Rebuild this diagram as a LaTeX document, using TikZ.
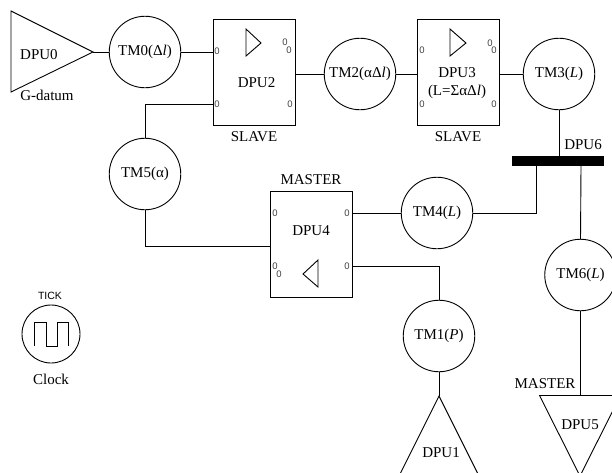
\documentclass[tikz,border=0pt]{standalone}
\usepackage{fontspec}
\setmainfont{Liberation Serif}
\setsansfont{Liberation Sans}
\begin{document}
\begin{tikzpicture}[x=1pt,y=-1pt,line width=0.9pt,
  tm/.style={draw,circle,minimum size=71.5pt,inner sep=0pt,outer sep=0pt,font=\fontsize{15}{17}\selectfont},
  dpubox/.style={draw,rectangle,minimum width=82pt,minimum height=106pt,inner sep=0pt,outer sep=0pt,align=center,font=\fontsize{15}{19}\selectfont},
  lbl/.style={inner sep=0pt,outer sep=0pt,font=\fontsize{15}{17}\selectfont},
  port/.style={inner sep=0pt,outer sep=0pt,text=black!75,font=\sffamily\fontsize{9.5}{11}\selectfont},
  wire/.style={draw,line width=0.9pt}]
\useasboundingbox (0,0) rectangle (612,472);
\clip (0,0) rectangle (612,472);

% tokens
\node[tm] (TM0) at (145,52) {TM0(Δ\textit{l})};
\node[tm] (TM2) at (360,74) {TM2(αΔ\textit{l})};
\node[tm] (TM3) at (559,74) {TM3(\textit{L})};
\node[tm] (TM5) at (145,174) {TM5(α)};
\node[tm] (TM4) at (437,213) {TM4(\textit{L})};
\node[tm] (TM6) at (580.5,275) {TM6(\textit{L})};
\node[tm] (TM1) at (439,336) {TM1(\textit{P})};

% DPU boxes
\node[dpubox] (DPU2) at (254,72) {};
\node[lbl] at (256.5,83) {DPU2};
\node[dpubox] (DPU3) at (458,72) {};
\node[lbl,align=center] at (457,73) {DPU3};
\node[lbl] at (457,92) {(L=ΣαΔ\textit{l})};
\node[dpubox] (DPU4) at (311,244) {};
\node[lbl] at (311,231) {DPU4};

% box labels
\node[lbl] at (254,137) {SLAVE};
\node[lbl] at (458,137) {SLAVE};
\node[lbl] at (311,180) {MASTER};
\node[lbl] at (583,145) {DPU6};
\node[lbl] at (545,384) {MASTER};

% small triangles in boxes
\draw (246,29) -- (261,43) -- (246,56) -- cycle;
\draw (450,29) -- (466,43) -- (450,56) -- cycle;
\draw (318,260) -- (303,274) -- (318,287) -- cycle;

% port marks
\foreach \x/\y in {217/51,217/104,285/42,289/50,290/104,
                   422/50,422/104,490/43,494/50,494/104,
                   275/213,347/213,275/266,279/274,347/266}
  \node[port] at (\x,\y) {0};

% DPU0
\coordinate (D0a) at (11,11);
\coordinate (D0tip) at (93,52);
\coordinate (D0b) at (11,92);
\draw[line join=miter] (D0a) -- (D0tip) -- (D0b) -- cycle;
\node[lbl] (DPU0) at (39,55) {DPU0};
\node[lbl] (Gd) at (47,95) {G-datum};

% DPU1
\coordinate (D1tip) at (439,396);
\draw (399,476) -- (D1tip) -- (479,476);
\node[lbl] (DPU1) at (441,453) {DPU1};

% DPU5
\coordinate (D5top) at (580.5,395.5);
\draw (539.5,395.5) -- (620.5,395.5) -- (580,476) -- cycle;
\node[lbl] (DPU5) at (580,425) {DPU5};

% DPU6 bar
\node[fill=black,draw=none,minimum width=92pt,minimum height=10pt,inner sep=0pt,outer sep=0pt] (DPU6) at (558,161) {};

% connectors
\draw[wire] (D0tip) -- (TM0.west);
\draw[wire] (TM0.east) -- (213,52);
\draw[wire] (TM5.north) |- (213,104);
\draw[wire] (TM5.south) |- (270,246);
\draw[wire] (DPU2.east |- TM2.west) -- (TM2.west);
\draw[wire] (TM2.east) -- (TM2.east -| DPU3.west);
\draw[wire] (DPU3.east |- TM3.west) -- (TM3.west);
\draw[wire] (TM3.south) -- (TM3.south |- DPU6.north);
\draw[wire] (TM4.west) -- (352,213);
\draw[wire] (TM4.east) -| (536,166);
\draw[wire] (581,166) -- (TM6.north);
\draw[wire] (TM6.south) -- (D5top);
\draw[wire] (352,266) -| (TM1.north);
\draw[wire] (TM1.south) -- (D1tip);

% Clock
\node[draw,circle,minimum size=58pt,inner sep=0pt,outer sep=0pt] (CLK) at (51,334) {};
\draw (34,346) -- (34,322) -- (46,322) -- (46,346) -- (57,346) -- (57,322) -- (68,322) -- (68,346);
\node[inner sep=0pt,font=\sffamily\fontsize{10.5}{12}\selectfont] (TICK) at (50,296) {TICK};
\node[lbl] (Clock) at (51,379) {Clock};
\end{tikzpicture}
\end{document}
